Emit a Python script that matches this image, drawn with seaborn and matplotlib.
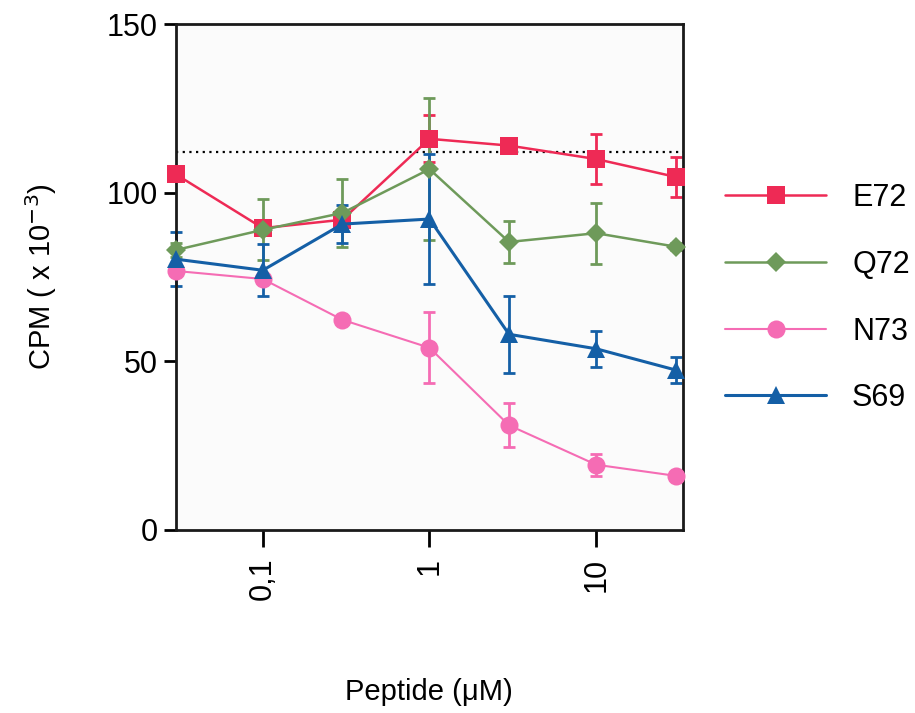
import numpy as np
import pandas as pd
import matplotlib
matplotlib.use("Agg")
import matplotlib.pyplot as plt
import seaborn as sns

# Peptide concentrations (uM)
conc = [0.03, 0.1, 0.3, 1, 3, 10, 30]
series_names = ["E72", "Q72", "N73", "S69"]

# CPM (x 10^-3)
e72 = [105.5, 89.5, 92.0, 116.0, 114.0, 110.0, 104.7]
q72 = [83.0, 89.0, 94.0, 107.0, 85.4, 88.0, 84.0]
n73 = [76.8, 74.4, 62.3, 54.0, 31.0, 19.3, 16.0]
s69 = [80.3, 77.0, 90.7, 92.2, 58.0, 53.7, 47.4]

# error bars
e72_err = [2, 2, 2, 7, 1, 7.4, 6]
q72_err = [2, 9, 10, 21, 6.3, 9, 1]
n73_err = [1, 1, 1, 10.5, 6.5, 3.3, 1]
s69_err = [8, 7.7, 5.6, 19.3, 11.5, 5.3, 4]

baseline = 112

xticks = [0.1, 1, 10]
xtick_labels = ["0,1", "1", "10"]
yticks = [0, 50, 100, 150]

colors = {"E72": "#ee2a55", "Q72": "#6e9a5a", "N73": "#f56cb4", "S69": "#145fa6"}
markers = {"E72": "s", "Q72": "D", "N73": "o", "S69": "^"}
msize = {"E72": 13, "Q72": 10, "N73": 13, "S69": 13}
lwidth = {"E72": 1.8, "Q72": 1.8, "N73": 1.5, "S69": 2.2}

values = {"E72": e72, "Q72": q72, "N73": n73, "S69": s69}
errors = {"E72": e72_err, "Q72": q72_err, "N73": n73_err, "S69": s69_err}

df = pd.concat([pd.DataFrame({"conc": conc, "cpm": values[n], "err": errors[n], "peptide": n})
                for n in series_names], ignore_index=True)

sns.set_style("white")
plt.rcParams["font.family"] = ["Liberation Sans", "DejaVu Sans"]
plt.rcParams["text.color"] = "black"
plt.rcParams["axes.labelcolor"] = "black"
plt.rcParams["xtick.color"] = "black"
plt.rcParams["ytick.color"] = "black"

fig = plt.figure(figsize=(9.15, 7.13), dpi=100)
ax = fig.add_axes([0.192, 0.257, 0.554, 0.709])
ax.set_facecolor("#fbfbfb")

ax.axhline(baseline, color="black", linestyle=(0, (1, 2)), linewidth=1.6, zorder=1)

for name in series_names:
    sub = df[df["peptide"] == name]
    ax.errorbar(sub["conc"], sub["cpm"], yerr=sub["err"], fmt="none",
                ecolor=colors[name], elinewidth=2, capsize=4, capthick=2, zorder=2,
                clip_on=False)
    sns.lineplot(data=sub, x="conc", y="cpm", ax=ax, color=colors[name],
                 marker=markers[name], markersize=msize[name], markeredgewidth=0,
                 linewidth=lwidth[name], label=name, zorder=3, errorbar=None,
                 clip_on=False)

ax.set_xscale("log")
ax.set_xlim(0.03, 33)
ax.set_ylim(0, 150)
ax.set_xticks(xticks)
ax.set_xticklabels(xtick_labels, rotation=90)
ax.minorticks_off()
ax.set_yticks(yticks)
ax.tick_params(axis="both", direction="out", length=9, width=2, labelsize=22,
               bottom=True, left=True, color="black", pad=4)
ax.tick_params(axis="x", length=12, pad=8)
for sp in ax.spines.values():
    sp.set_visible(True)
    sp.set_color("#1a1a1a")
    sp.set_linewidth(2)

ax.set_xlabel("Peptide (μM)", fontsize=21, labelpad=56)
ax.set_ylabel("CPM ( x 10$^{-3}$)", fontsize=21, labelpad=34)

leg = ax.legend(loc="upper left", bbox_to_anchor=(1.03, 0.74), frameon=False,
                fontsize=22, handlelength=3.3, labelspacing=1.2, handletextpad=0.85)

fig.savefig("out.png", dpi=100)
